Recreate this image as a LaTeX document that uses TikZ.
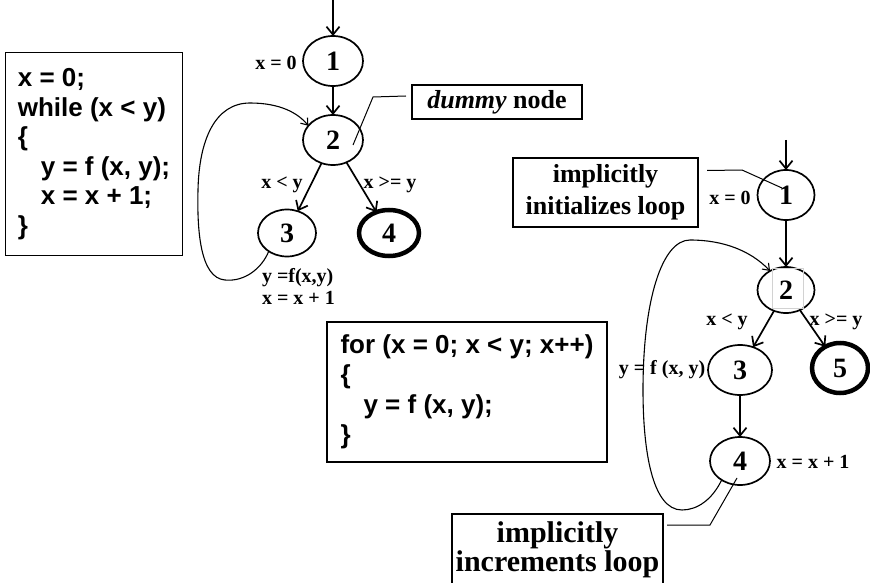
\documentclass[tikz,border=0pt]{standalone}
\usepackage{fontspec}
\setmainfont{Liberation Serif}
\newfontfamily\codefont{Liberation Sans}
\usetikzlibrary{shapes.geometric,arrows.meta}
\begin{document}
\begin{tikzpicture}[x=1pt,y=-1pt,
  every node/.style={inner sep=0pt, outer sep=0pt},
  state/.style={ellipse, draw, line width=1.7pt, font=\fontsize{28}{30}\selectfont\bfseries},
  final/.style={state, line width=4.5pt},
  lbl/.style={font=\fontsize{20}{22}\selectfont\bfseries},
  codebox/.style={draw, line width=1.4pt, align=left, font=\codefont\fontsize{26}{29.5}\selectfont\bfseries},
  notebox/.style={draw, line width=1.4pt, align=center, font=\fontsize{26}{32}\selectfont\bfseries},
  flow/.style={line width=1.7pt, -{Straight Barb[length=8pt,width=13pt]}},
  loopline/.style={line width=1.1pt, -{Straight Barb[length=6pt,width=9pt]}},
  leader/.style={line width=1pt},
]
\path[fill=white, use as bounding box] (0,0) rectangle (870,583);

% ---- left code box
\node[codebox, minimum width=177pt, minimum height=203pt] (while) at (94,154)
  {x = 0;\\ while (x < y)\\ \{\\ \hspace*{23pt}y = f (x, y);\\ \hspace*{23pt}x = x + 1;\\ \}};

% ---- left graph
\node[state, minimum width=60pt, minimum height=50pt] (l1) at (333,61) {1};
\node[state, minimum width=60pt, minimum height=50pt] (l2) at (333,140) {2};
\node[state, minimum width=58pt, minimum height=47pt] (l3) at (287,233) {3};
\node[final, minimum width=60pt, minimum height=46pt] (l4) at (389,233) {4};
\coordinate (le) at (333,0);
\draw[flow] (le) -- (l1);
\draw[flow] (l1) -- (l2);
\draw[flow] (l2) -- (l3);
\draw[flow] (l2) -- (l4);
\draw[loopline] (l3.225) .. controls (262,268) and (245,282) .. (225,280)
  .. controls (200,278) and (197,230) .. (198,190)
  .. controls (199,140) and (215,103) .. (250,103)
  .. controls (280,103) and (298,113) .. (l2.150);
\node[lbl] (lx0) at (276,63) {x = 0};
\node[lbl] (llt) at (282,185) {x < y};
\node[lbl] (lge) at (390,185) {x >= y};
\node[lbl, anchor=west] (lfy) at (262,278) {y =f(x,y)};
\node[lbl, anchor=west] (lxx) at (262,298) {x = x + 1};

\node[notebox, minimum width=170pt, minimum height=34pt] (dummy) at (497,102) {{\itshape dummy} node};
\draw[leader] ([shift={(-6,-6)}]dummy.west) -- (373,97) -- ([shift={(20,5)}]l2.center);

% ---- for box
\node[codebox, minimum width=280pt, minimum height=140pt, font=\codefont\fontsize{26}{30}\selectfont\bfseries] (for) at (467,392)
  {for (x = 0; x < y; x++)\\ \{\\ \hspace*{23pt}y = f (x, y);\\ \}};

% ---- right graph
\node[state, minimum width=57pt, minimum height=50pt] (r1) at (786,195) {1};
\node[state, minimum width=57pt, minimum height=46pt] (r2) at (786,290) {2};
\node[state, minimum width=64pt, minimum height=50pt] (r3) at (740,370) {3};
\node[final, minimum width=56pt, minimum height=50pt] (r5) at (840,368) {5};
\node[state, minimum width=60pt, minimum height=48pt] (r4) at (740,461) {4};
\draw[gray!35, line width=0.6pt] (772,268) rectangle (803,308);
\coordinate (re) at (786,140);
\draw[flow] (re) -- (r1);
\draw[flow] (r1) -- (r2);
\draw[flow] (r2) -- (r3);
\draw[flow] (r2) -- (r5);
\draw[flow] (r3) -- (r4);
\draw[loopline] (r4.226) .. controls (712,500) and (697,510) .. (682,510)
  .. controls (652,510) and (643,450) .. (643,390)
  .. controls (643,300) and (662,240) .. (690,240)
  .. controls (722,240) and (750,250) .. (r2.130);
\node[lbl] (rx0) at (730,198) {x = 0};
\node[lbl] (rlt) at (727,322) {x < y};
\node[lbl] (rge) at (836,322) {x >= y};
\node[lbl] (rfy) at (662,370) {y = f (x, y)};
\node[lbl] (rxx) at (813,462) {x = x + 1};

\node[notebox, minimum width=185pt, minimum height=69pt] (init) at (605.5,192.5) {implicitly\\ initializes loop};
\draw[leader] ([shift={(9,-22)}]init.east) -- (742,170) -- ([shift={(-4,-7)}]r1.center);

\node[notebox, minimum width=211pt, minimum height=72pt, font=\fontsize{30}{29}\selectfont\bfseries] (incr) at (557.5,550) {implicitly\\ increments loop};
\draw[leader] ([shift={(4,-25)}]incr.east) -- (710,525) -- ([shift={(-3,17)}]r4.center);
\end{tikzpicture}
\end{document}
